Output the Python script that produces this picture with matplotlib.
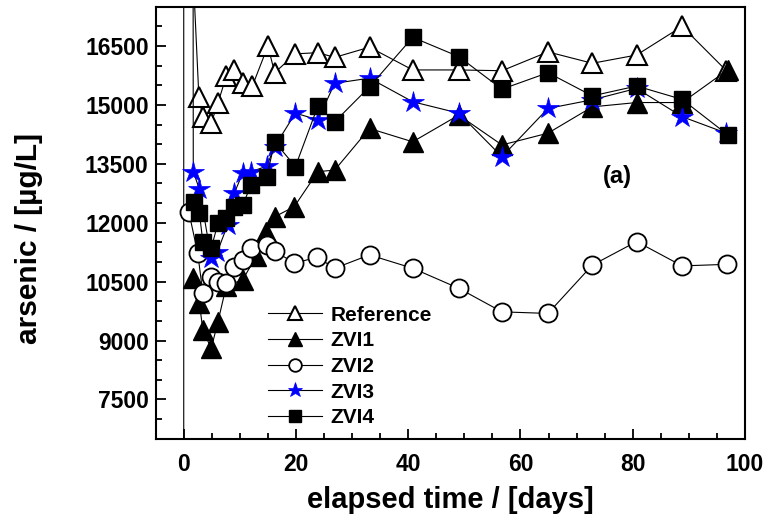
import matplotlib
matplotlib.use("Agg")
import matplotlib.pyplot as plt
from matplotlib.ticker import MultipleLocator

plt.rcParams['font.family'] = ['Liberation Sans', 'DejaVu Sans']
plt.rcParams['font.weight'] = 'bold'

# elapsed time (days) and arsenic (ug/L)
ref_t = [0, 0, 2.7, 3.4, 4.9, 6.1, 7.6, 9.0, 10.5, 12.2, 15.0, 16.2, 19.9, 23.9, 26.9,
         33.1, 40.8, 49.0, 56.7, 64.9, 72.8, 80.7, 88.8, 96.7]
ref_v = [0, 23500, 15200, 14680, 14540, 15050, 15740, 15900, 15550, 15470, 16500, 15820,
         16300, 16330, 16210, 16470, 15890, 15890, 15870, 16350, 16060, 16270, 17000, 15870]

zvi1_t = [1.6, 2.8, 3.4, 4.9, 6.1, 7.6, 10.5, 12.9, 14.7, 16.2, 19.7, 23.9, 26.9,
          33.1, 40.8, 49.0, 56.7, 64.9, 72.8, 80.7, 88.8, 96.9]
zvi1_v = [10580, 9950, 9270, 8800, 9480, 10400, 10540, 11150, 11770, 12150, 12410,
          13300, 13340, 14400, 14060, 14740, 13980, 14280, 14950, 15060, 15060, 15890]

zvi2_t = [0.9, 2.5, 3.4, 4.9, 6.1, 7.6, 9.0, 10.5, 12.0, 14.8, 16.2, 19.7, 23.8, 26.9,
          33.1, 40.8, 49.0, 56.7, 64.9, 72.8, 80.7, 88.8, 96.8]
zvi2_v = [12280, 11220, 10200, 10630, 10500, 10460, 10880, 11050, 11350, 11430, 11280,
          10970, 11120, 10840, 11180, 10840, 10330, 9730, 9690, 10920, 11520, 10900, 10940]

zvi3_t = [1.6, 1.7, 2.8, 4.9, 6.0, 7.8, 9.0, 10.5, 12.0, 14.8, 16.2, 19.9, 23.9, 26.9,
          33.1, 40.8, 49.0, 56.7, 64.9, 72.8, 80.7, 88.8, 96.7]
zvi3_v = [30000, 13300, 12850, 11100, 11260, 11940, 12750, 13260, 13300, 13440, 13940,
          14790, 14620, 15550, 15680, 15080, 14790, 13680, 14910, 15130, 15420, 14700, 14280]

zvi4_t = [1.9, 2.8, 3.4, 4.9, 6.1, 7.6, 9.0, 10.5, 12.0, 14.8, 16.2, 19.9, 23.9, 26.9,
          33.1, 40.8, 49.0, 56.7, 64.9, 72.8, 80.7, 88.8, 97.0]
zvi4_v = [12540, 12240, 11520, 11350, 11990, 12110, 12410, 12450, 12960, 13170, 14060,
          13430, 14970, 14570, 15460, 16720, 16230, 15400, 15820, 15230, 15480, 15140, 14230]

fig = plt.figure(figsize=(7.68, 5.29), dpi=100)
ax = fig.add_axes([0.2027, 0.1707, 0.7673, 0.8166])

lw = 0.8
ax.plot(ref_t, ref_v, '-', color='black', lw=lw, marker='^', ms=14,
        mfc='white', mec='black', mew=1.5, label='Reference')
ax.plot(zvi1_t, zvi1_v, '-', color='black', lw=lw, marker='^', ms=14,
        mfc='black', mec='black', mew=1.0, label='ZVI1')
ax.plot(zvi2_t, zvi2_v, '-', color='black', lw=lw, marker='o', ms=13,
        mfc='white', mec='black', mew=1.3, label='ZVI2')
ax.plot(zvi3_t, zvi3_v, '-', color='black', lw=lw, marker='*', ms=16,
        mfc='blue', mec='blue', mew=0.5, label='ZVI3')
ax.plot(zvi4_t, zvi4_v, '-', color='black', lw=lw, marker='s', ms=12,
        mfc='black', mec='black', mew=1.0, label='ZVI4')

ax.set_xlim(-5, 100)
ax.set_ylim(6500, 17500)
ax.xaxis.set_major_locator(MultipleLocator(20))
ax.xaxis.set_minor_locator(MultipleLocator(5))
ax.yaxis.set_major_locator(MultipleLocator(1500))
ax.yaxis.set_minor_locator(MultipleLocator(500))
ax.tick_params(which='both', direction='in', top=False, right=False,
               labelsize=16.5, width=1.3)
ax.tick_params(which='major', length=7)
ax.tick_params(which='minor', length=4)
ax.tick_params(axis='x', which='major', pad=10)
ax.tick_params(axis='y', which='major', pad=5)
for s in ax.spines.values():
    s.set_linewidth(1.5)

ax.set_xlabel('elapsed time / [days]', fontsize=21, fontweight='bold')
ax.set_ylabel('arsenic / [µg/L]', fontsize=21.5, fontweight='bold')
ax.xaxis.set_label_coords(0.5, -0.11)
ax.yaxis.set_label_coords(-0.192, 0.463)

ax.text(0.783, 0.608, '(a)', transform=ax.transAxes, fontsize=17,
        fontweight='bold', ha='center', va='center')

ax.legend(loc='upper left', bbox_to_anchor=(0.19, 0.308), frameon=False,
          fontsize=15, markerscale=0.7, handlelength=2.6, handletextpad=0.4,
          labelspacing=0.32, borderpad=0, borderaxespad=0)

fig.savefig('out.png', dpi=100)
